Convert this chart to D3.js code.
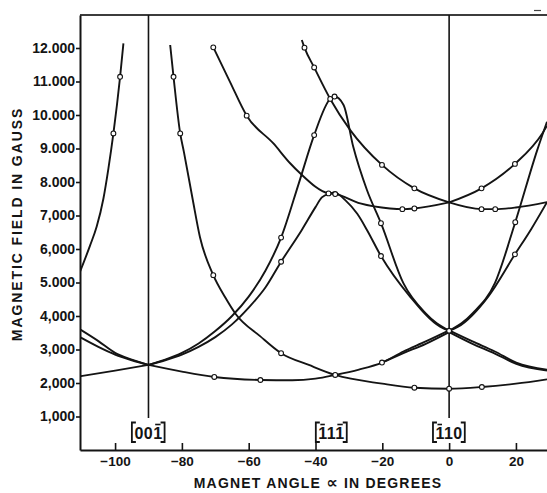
<!DOCTYPE html>
<html><head><meta charset="utf-8">
<script src="https://cdn.jsdelivr.net/npm/d3@7"></script>
<style>body{margin:0;background:#fff}svg{display:block}</style>
</head><body>
<svg id="c" width="547" height="493"></svg>
<script>
// ---------- data (angle in degrees, field in gauss) ----------
const angleTicks = [-100, -80, -60, -40, -20, 0, 20];
const angleTickLabels = ["\u2212100", "\u221280", "\u221260", "\u221240", "\u221220", "0", "20"];
const fieldTicks = [1000, 2000, 3000, 4000, 5000, 6000, 7000, 8000, 9000, 10000, 11000, 12000];
const fieldTickLabels = ["1,000", "2,000", "3,000", "4,000", "5.000", "6,000", "7,000", "8.000", "9.000", "10.000", "11.000", "12.000"];

const curveA = [[-110.5,5320],[-107.5,6100],[-105.5,6670],[-103.5,7500],[-102,8400],[-100.5,9450],[-98.5,11140],[-97.5,12140]];
const curveB = [[-83.5,12090],[-82.5,11140],[-80.5,9450],[-79.4,8900],[-76.8,7500],[-74.6,6360],[-70.6,5220],[-67,4550],[-63.9,4060],[-56.6,3400],[-50.3,2890],[-42,2540],[-34.1,2240],[-20,1980],[-10.4,1860],[0,1830],[9.8,1880],[20,1980],[29.3,2110]];
const curveQ = [[-110.5,2200],[-100,2370],[-90,2540],[-80,2340],[-70.3,2180],[-56.5,2090],[-47,2080],[-40,2130],[-34.1,2240],[-27,2400],[-20.1,2610],[-13.7,2940],[-7,3240],[0,3570],[7,3240],[13.7,2940],[20.1,2610],[29.3,2400]];
const curveQ2 = [[-20.1,2610],[-13.7,2890],[-7,3170],[0,3520],[7,3170],[13.7,2880],[20.1,2570],[29.3,2370]];
const curveX = [[-110.5,3600],[-105,3250],[-100,2900],[-95,2700],[-90,2540],[-85,2700],[-80,2900],[-75,3180],[-70,3550],[-65,4000],[-60,4580],[-55,5350],[-50.3,6340],[-45,7960],[-40.4,9400],[-35.6,10480],[-34.3,10550],[-31.6,10300],[-28.7,9050],[-24.6,7760],[-20.4,6770],[-13.7,4980],[-7,4080],[-3.7,3780],[0,3560],[3.7,3780],[7,4080],[13.7,4980],[19.8,6800],[26.4,8960],[29.3,9800]];
const curveY = [[-110.5,3370],[-105,3080],[-100,2850],[-95,2680],[-90,2540],[-85,2680],[-80,2850],[-75,3080],[-70,3370],[-65,3750],[-60,4250],[-55,4850],[-50.3,5620],[-44.1,6570],[-40,7250],[-38.1,7540],[-35.6,7660],[-34.4,7690],[-31.1,7460],[-27.5,7050],[-24.6,6570],[-20.4,5790],[-11.7,4580],[-2.7,3680],[0,3560],[2.7,3680],[11.7,4580],[19.7,5840],[24.6,6600],[29.3,7400]];
const curveUpper = [[-44.1,12240],[-43.3,12010],[-40.4,11420],[-35.6,10480],[-29.6,9550],[-20.1,8510],[-10.4,7810],[0,7390],[9.7,7810],[19.7,8540],[27.9,9450],[29.3,9680]];
const curveFlat = [[-70.6,12020],[-65.6,10990],[-60.6,9980],[-52.6,9150],[-47.6,8560],[-44.6,8260],[-36.1,7660],[-34.1,7640],[-26.6,7360],[-17.7,7210],[-14,7190],[-10.4,7210],[0,7390],[9.7,7190],[13.8,7190],[20,7240],[29.3,7400]];

const curves = [
  {pts: curveA, cusps: []},
  {pts: curveB, cusps: []},
  {pts: curveQ, cusps: [-90, 0]},
  {pts: curveQ2, cusps: [0]},
  {pts: curveX, cusps: [-90, 0]},
  {pts: curveY, cusps: [-90, 0]},
  {pts: curveUpper, cusps: [0]},
  {pts: curveFlat, cusps: [0]}
];

const markers = [
  [-100.5,9450],[-98.5,11140],
  [-82.5,11140],[-80.5,9450],[-70.6,5220],[-50.3,2890],[-10.4,1860],[0,1830],[9.8,1880],
  [-70.3,2180],[-56.5,2090],[-34.1,2240],[-20.1,2610],
  [-50.3,6340],[-40.4,9400],[-35.6,10480],[-34.3,10550],[-20.4,6770],[19.8,6800],
  [-50.3,5620],[-20.4,5790],[19.7,5840],
  [-43.3,12010],[-40.4,11420],[-20.1,8510],[-10.4,7810],[9.7,7810],[19.7,8540],
  [-70.6,12020],[-60.6,9980],[-36.1,7660],[-34.1,7640],[-14,7190],[-10.4,7210],[9.7,7190],[13.8,7190],
  [0,3560]
];

const referenceAngles = [-90, 0];
const directionLabels = [
  {angle: -90, digits: "001", bars: [0,0,1]},
  {angle: -35.2, digits: "111", bars: [1,0,1]},
  {angle: 0, digits: "110", bars: [1,0,0]}
];
const xTitleParts = ["MAGNET ANGLE ", "\u221D", " IN DEGREES"];
const yTitle = "MAGNETIC FIELD IN GAUSS";

// ---------- drawing ----------
const svg = d3.select("#c");
const ink = "#141414";
const FONT = "'Liberation Sans', Arial, sans-serif";
const xMin = -110.5, xMax = 29.3, yMax = 12985;
const x = d3.scaleLinear().domain([xMin, xMax]).range([80, 547]);
const y = d3.scaleLinear().domain([0, yMax]).range([450, 15]);

svg.append("defs").append("clipPath").attr("id","plot")
  .append("rect").attr("x", x(xMin)).attr("y", y(yMax)).attr("width", x(xMax)-x(xMin)).attr("height", y(0)-y(yMax));

// top border
svg.append("line").attr("x1", x(xMin)).attr("x2", x(xMax)).attr("y1", y(yMax)).attr("y2", y(yMax))
  .attr("stroke", "#3c3c3c").attr("stroke-width", 2);
// small stray dash at top right
svg.append("line").attr("x1", 534).attr("x2", 541).attr("y1", 10.5).attr("y2", 10.5).attr("stroke", "#444").attr("stroke-width", 1.2);

// y axis
const yAxis = d3.axisLeft(y).tickValues(fieldTicks).tickFormat((d,i) => fieldTickLabels[i])
  .tickSizeInner(4).tickSizeOuter(0).tickPadding(1);
const gy = svg.append("g").attr("transform", `translate(${x(xMin)},0)`).call(yAxis);
gy.select(".domain").attr("stroke", ink).attr("stroke-width", 2);
gy.selectAll(".tick line").attr("stroke", ink).attr("stroke-width", 1.6);
gy.selectAll(".tick text").attr("font-family", FONT).attr("font-weight", "bold")
  .attr("font-size", 14).attr("fill", ink);

// x axis (ticks pointing inward)
const xAxis = d3.axisBottom(x).tickValues(angleTicks).tickFormat((d,i) => angleTickLabels[i])
  .tickSizeInner(-7).tickSizeOuter(0).tickPadding(6);
const gx = svg.append("g").attr("transform", `translate(0,${y(0)})`).call(xAxis);
gx.select(".domain").attr("stroke", ink).attr("stroke-width", 2);
gx.selectAll(".tick line").attr("stroke", ink).attr("stroke-width", 1.6);
gx.selectAll(".tick text").attr("font-family", FONT).attr("font-weight", "bold")
  .attr("font-size", 13.5).attr("fill", ink);

// reference direction lines
svg.selectAll(".ref").data(referenceAngles).join("line").attr("class", "ref")
  .attr("x1", d => x(d)).attr("x2", d => x(d)).attr("y1", y(yMax)).attr("y2", 418)
  .attr("stroke", ink).attr("stroke-width", 1.6);

// curves
function pieces(pts, cusps) {
  const out = []; let cur = [];
  pts.forEach(p => {
    cur.push(p);
    if (cusps.includes(p[0]) && cur.length > 1) { out.push(cur); cur = [p]; }
  });
  if (cur.length > 1) out.push(cur);
  return out;
}
const line = d3.line().x(d => x(d[0])).y(d => y(d[1])).curve(d3.curveMonotoneX);
const gc = svg.append("g").attr("clip-path", "url(#plot)");
curves.forEach(c => {
  pieces(c.pts, c.cusps).forEach(seg => {
    gc.append("path").attr("d", line(seg)).attr("fill", "none")
      .attr("stroke", ink).attr("stroke-width", 1.9).attr("stroke-linejoin", "round");
  });
});

// markers
svg.append("g").selectAll("circle").data(markers).join("circle")
  .attr("cx", d => x(d[0])).attr("cy", d => y(d[1])).attr("r", 2.4)
  .attr("fill", "#fff").attr("stroke", ink).attr("stroke-width", 1.1);

// direction labels with brackets and overbars
directionLabels.forEach(dl => {
  const cx = x(dl.angle);
  const g = svg.append("g");
  const t = g.append("text").attr("x", cx).attr("y", 439).attr("text-anchor", "middle")
    .attr("font-family", FONT).attr("font-weight", "bold").attr("font-size", 16)
    .attr("letter-spacing", 0.5).attr("fill", ink).text(dl.digits);
  const node = t.node();
  const bb = node.getBBox();
  dl.bars.forEach((b, i) => {
    if (!b) return;
    const e = node.getExtentOfChar(i);
    g.append("line").attr("x1", e.x + 2).attr("x2", e.x + e.width - 2)
      .attr("y1", 424.5).attr("y2", 424.5).attr("stroke", ink).attr("stroke-width", 1.6);
  });
  const l = bb.x - 2.5, r = bb.x + bb.width + 2;
  const bp = `M${l+4},422.5H${l}V442H${l+4}M${r-4},422.5H${r}V442H${r-4}`;
  g.append("path").attr("d", bp).attr("fill", "none").attr("stroke", ink).attr("stroke-width", 1.8);
});

// axis titles
const xt = svg.append("text").attr("x", 318).attr("y", 488).attr("text-anchor", "middle")
  .attr("font-family", FONT).attr("font-weight", "bold").attr("font-size", 14)
  .attr("letter-spacing", 1.2).attr("fill", ink);
xTitleParts.forEach((s, i) => {
  const ts = xt.append("tspan").text(s);
  if (i === 1) ts.attr("font-size", 16).attr("font-family", "'DejaVu Sans', sans-serif");
});
svg.append("text").attr("transform", "translate(22,224) rotate(-90)").attr("text-anchor", "middle")
  .attr("font-family", FONT).attr("font-weight", "bold").attr("font-size", 14)
  .attr("letter-spacing", 1.9).attr("fill", ink).text(yTitle);
</script>
</body></html>
